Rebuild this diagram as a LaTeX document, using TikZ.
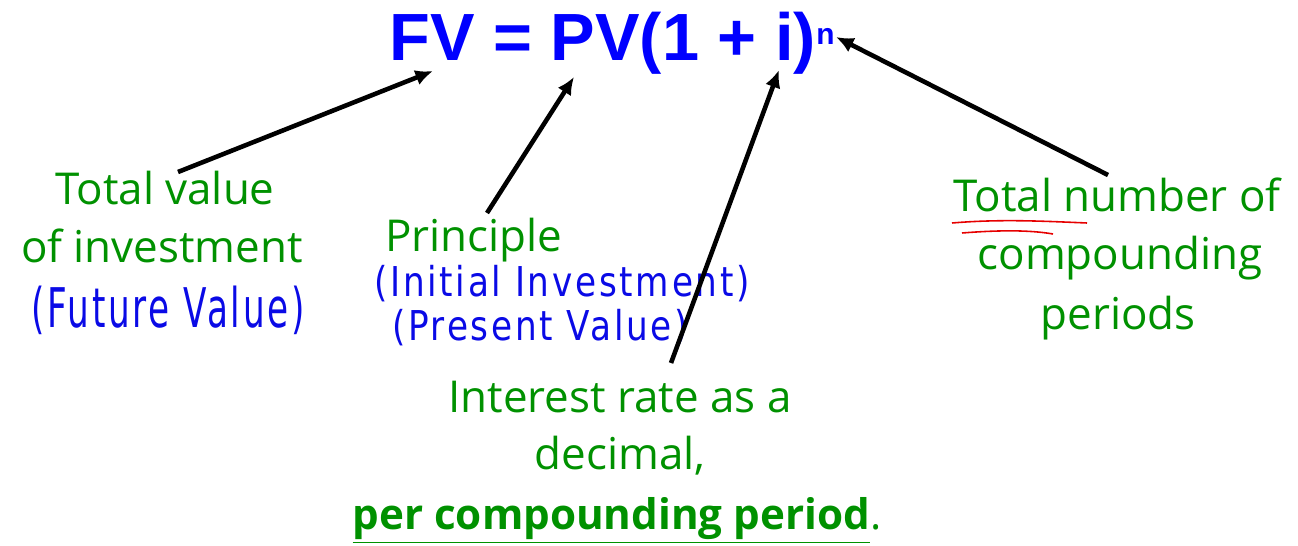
\documentclass[tikz,border=0pt]{standalone}
\usepackage{fontspec}
\setmainfont{Open Sans}
\newfontfamily\formulafont{Liberation Sans}
\newfontfamily\handfont{DejaVu Sans}[LetterSpace=8]
\usetikzlibrary{arrows.meta}
\definecolor{lblgreen}{RGB}{0,145,0}
\definecolor{fblue}{RGB}{0,0,255}
\definecolor{hblue}{RGB}{10,10,230}
\definecolor{ured}{RGB}{230,0,0}
\tikzset{
  lbl/.style={text=lblgreen, font=\fontsize{25}{33}\selectfont, align=center, inner sep=0pt},
  hand/.style={text=hblue, font=\handfont\fontsize{19.5}{22}\selectfont, inner sep=0pt, yscale=1.2},
  ptr/.style={line width=2.6pt, -{Latex[length=10pt,width=9pt]}, black},
}
\begin{document}
\begin{tikzpicture}[x=0.02cm,y=-0.02cm]
\useasboundingbox (0,0) rectangle (1298,546);
% formula
\node[anchor=base west, inner sep=0pt, text=fblue, font=\formulafont\bfseries\fontsize{38}{40}\selectfont] (formula) at (389,61) {FV = PV(1 + i)};
\node[anchor=base west, inner sep=0pt, text=fblue, font=\formulafont\bfseries\fontsize{17}{18}\selectfont] (expn) at (816,45) {n};
% labels
\node[lbl, anchor=base] (fv1) at (165,205) {Total value};
\node[lbl, anchor=base] (fv2) at (162,263) {of investment};
\node[lbl, anchor=base west] (pv) at (385,252) {Principle};
\node[lbl, anchor=base] (n1) at (1117,212) {Total number of};
\node[lbl, anchor=base] (n2) at (1120,270) {compounding};
\node[lbl, anchor=base] (n3) at (1118,330) {periods};
\node[lbl, anchor=base] (i1) at (620,413) {Interest rate as a};
\node[lbl, anchor=base] (i2) at (620,470) {decimal,};
\node[lbl, anchor=base, font=\fontsize{24}{33}\selectfont] (i3) at (617,530) {\underline{\textbf{per compounding period}}.};
% handwritten notes
\node[hand, yscale=1.33] (h1) at (168,310) {(Future Value)};
\node[hand] (h2) at (562,284) {(Initial Investment)};
\node[hand] (h3) at (540,328) {(Present Value)};
% red underlines
\draw[ured, line width=0.9pt] (952,223) .. controls (1000,219) and (1040,221) .. (1087,223);
\draw[ured, line width=0.9pt] (962,233) .. controls (1000,230) and (1030,230) .. (1053,234);
% arrow coordinates
\coordinate (a1s) at (178,172); \coordinate (a1e) at (433,71);
\coordinate (a2s) at (487,213); \coordinate (a2e) at (574,77);
\coordinate (a3s) at (671,363); \coordinate (a3e) at (779,70);
\coordinate (a4s) at (1108,175); \coordinate (a4e) at (836,37);
\draw[ptr] (a1s) -- (a1e);
\draw[ptr] (a2s) -- (a2e);
\draw[ptr] (a3s) -- (a3e);
\draw[ptr] (a4s) -- (a4e);
\end{tikzpicture}
\end{document}
